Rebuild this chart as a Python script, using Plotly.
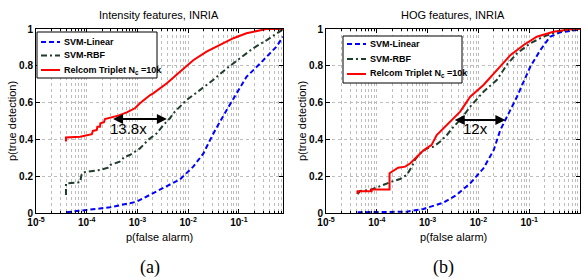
import math
import plotly.graph_objects as go

# ---------------- data ----------------
# (a) Intensity features, INRIA
a_lin_fa = [4.0e-5, 1.0e-4, 2.88e-4, 9.55e-4, 2.4e-3, 6.9e-3, 1.26e-2, 2.0e-2, 2.7e-2,
            3.4e-2, 5.75e-2, 8.9e-2, 0.141, 0.257, 0.41, 0.55, 0.74]
a_lin_td = [0.004, 0.016, 0.031, 0.061, 0.116, 0.183, 0.252, 0.324, 0.397,
            0.45, 0.56, 0.65, 0.74, 0.81, 0.868, 0.904, 0.958]

a_rbf_fa = [3.9e-5, 3.9e-5, 7.4e-5, 7.9e-5, 8.5e-5, 1.82e-4, 2.63e-4, 2.88e-4, 4.47e-4,
            5.62e-4, 7.08e-4, 1.12e-3, 1.62e-3, 2.4e-3, 3.24e-3, 4.37e-3, 5.1e-3, 9.3e-3,
            1.7e-2, 3.1e-2, 5.75e-2, 0.105, 0.19, 0.355, 0.645, 0.74]
a_rbf_td = [0.098, 0.161, 0.167, 0.207, 0.221, 0.234, 0.246, 0.261, 0.279,
            0.306, 0.315, 0.351, 0.397, 0.433, 0.478, 0.515, 0.542, 0.614,
            0.668, 0.723, 0.786, 0.84, 0.895, 0.94, 0.985, 0.998]

a_rel_fa = [3.9e-5, 3.9e-5, 7.4e-5, 1.0e-4, 1.26e-4, 1.32e-4, 1.58e-4, 1.62e-4, 1.82e-4,
            1.86e-4, 2.19e-4, 2.29e-4, 2.88e-4, 4.17e-4, 6.17e-4, 8.9e-4, 1.12e-3, 1.41e-3,
            1.78e-3, 2.04e-3, 3.8e-3, 6.9e-3, 1.26e-2, 2.3e-2, 4.3e-2, 7.8e-2, 0.141,
            0.257, 0.347, 0.74]
a_rel_td = [0.388, 0.41, 0.415, 0.424, 0.428, 0.446, 0.451, 0.469, 0.469,
            0.487, 0.493, 0.511, 0.518, 0.529, 0.547, 0.569, 0.596, 0.62,
            0.641, 0.65, 0.705, 0.768, 0.83, 0.877, 0.913, 0.95, 0.977,
            0.995, 1.0, 1.0]

# (b) HOG features, INRIA
b_lin_fa = [4.2e-5, 3.89e-4, 8.3e-4, 2.04e-3, 3.7e-3, 6.9e-3, 1.26e-2, 2.0e-2, 2.7e-2,
            3.4e-2, 5.75e-2, 0.105, 0.166, 0.257, 0.41, 0.645, 1.0]
b_lin_td = [0.004, 0.007, 0.022, 0.056, 0.098, 0.161, 0.243, 0.342, 0.451,
            0.505, 0.632, 0.795, 0.886, 0.958, 0.982, 0.99, 0.998]

b_rbf_fa = [4.2e-5, 4.7e-5, 7.4e-5, 1.26e-4, 1.95e-4, 2.88e-4, 3.89e-4, 4.9e-4, 5.62e-4,
            7.08e-4, 9.55e-4, 1.29e-3, 1.78e-3, 2.4e-3, 3.24e-3, 4.37e-3, 6.9e-3, 1.26e-2,
            2.3e-2, 3.6e-2, 5.75e-2, 0.105, 0.19, 0.355, 0.74, 1.0]
b_rbf_td = [0.102, 0.12, 0.125, 0.152, 0.17, 0.185, 0.207, 0.252, 0.288,
            0.324, 0.351, 0.36, 0.388, 0.424, 0.469, 0.505, 0.578, 0.659,
            0.723, 0.804, 0.868, 0.922, 0.958, 0.985, 1.0, 1.0]

b_rel_fa = [4.2e-5, 4.2e-5, 7.9e-5, 7.9e-5, 1.78e-4, 1.78e-4, 2.63e-4, 3.63e-4, 4.57e-4,
            6.17e-4, 7.76e-4, 9.55e-4, 1.2e-3, 1.51e-3, 1.91e-3, 2.4e-3, 3.0e-3, 4.37e-3,
            5.1e-3, 6.9e-3, 1.26e-2, 2.3e-2, 4.3e-2, 7.8e-2, 0.141, 0.30, 0.645, 1.0]
b_rel_td = [0.103, 0.118, 0.118, 0.128, 0.128, 0.216, 0.246, 0.252, 0.27,
            0.306, 0.333, 0.351, 0.37, 0.424, 0.451, 0.478, 0.505, 0.551,
            0.578, 0.632, 0.696, 0.777, 0.859, 0.913, 0.958, 0.985, 0.998, 1.0]

series_names = ["SVM-Linear", "SVM-RBF", "Relcom Triplet N<sub>c</sub> =10k"]

# annotation arrows: (left fa, right fa, td, label, label fa, label td)
a_arrow = (3.09e-4, 3.8e-3, 0.511, "13.8x", 6.6e-4, 0.46)
b_arrow = (3.2e-3, 3.4e-2, 0.505, "12x", 8.9e-3, 0.46)

panel_titles = ["Intensity features, INRIA", "HOG features, INRIA"]
panel_tags = ["(a)", "(b)"]
x_label = "p(false alarm)"
y_label = "p(true detection)"
y_ticks = [0, 0.2, 0.4, 0.6, 0.8, 1]
x_decades = [-5, -4, -3, -2, -1, 0]

# ---------------- styling ----------------
W, H = 585, 280
FONT = "Liberation Sans, Arial, Helvetica, sans-serif"
COLORS = ["#0000ff", "#1f3d2b", "#ff0000"]
DASHES = ["5px,3px", "6px,3px,2px,3px", "solid"]

fig = go.Figure()

def add_panel(idx, series):
    xa = "x" if idx == 0 else "x2"
    ya = "y" if idx == 0 else "y2"
    for k, (fa, td) in enumerate(series):
        fig.add_trace(go.Scatter(x=fa, y=td, mode="lines", name=series_names[k],
                                 line=dict(color=COLORS[k], width=2, dash=DASHES[k]),
                                 xaxis=xa, yaxis=ya, showlegend=False))

add_panel(0, [(a_lin_fa, a_lin_td), (a_rbf_fa, a_rbf_td), (a_rel_fa, a_rel_td)])
add_panel(1, [(b_lin_fa, b_lin_td), (b_rbf_fa, b_rbf_td), (b_rel_fa, b_rel_td)])

# log tick positions: labelled decades, unlabelled minor ticks
major_vals = [10.0 ** d for d in x_decades]
major_text = ["10<sup>%d</sup>" % d for d in x_decades]
minor_vals = [m * 10.0 ** d for d in x_decades if d < 0 for m in range(2, 10)]

# pixel geometry
L1, R1 = 36, 283
L2, R2 = 326, 580
TOP, BOT = 29, 213

def px(v):
    return v / W

def py(v):
    return 1 - v / H

GRID = "#bdbdbd"
common_x = dict(type="log", tickmode="array", tickvals=major_vals, ticktext=major_text,
                showgrid=True, gridcolor=GRID, griddash="dot", gridwidth=1,
                showline=True, linecolor="black", linewidth=1, mirror="ticks",
                ticks="inside", ticklen=4, tickcolor="black", zeroline=False,
                minor=dict(tickmode="array", tickvals=minor_vals, ticks="inside",
                           ticklen=2, tickcolor="black", showgrid=True,
                           gridcolor=GRID, griddash="dot", gridwidth=1),
                tickfont=dict(family=FONT, size=10, color="black", weight="bold"))
common_y = dict(range=[0, 1], tickmode="array", tickvals=y_ticks,
                ticktext=[("%g" % v) for v in y_ticks],
                showgrid=True, gridcolor=GRID, griddash="dot", gridwidth=1,
                showline=True, linecolor="black", linewidth=1, mirror="ticks",
                ticks="inside", ticklen=4, tickcolor="black", zeroline=False,
                tickfont=dict(family=FONT, size=10, color="black", weight="bold"))

fig.update_layout(
    width=W, height=H,
    margin=dict(l=0, r=0, t=0, b=0, autoexpand=False),
    paper_bgcolor="white", plot_bgcolor="white",
    xaxis=dict(common_x, domain=[px(L1), px(R1)], range=[-5, math.log10(0.74)]),
    yaxis=dict(common_y, domain=[py(BOT), py(TOP)], anchor="x"),
    xaxis2=dict(common_x, domain=[px(L2), px(R2)], range=[-5, 0]),
    yaxis2=dict(common_y, domain=[py(BOT), py(TOP)], anchor="x2"),
    showlegend=False,
)

annotations = []
shapes = []
for i, (L, R) in enumerate([(L1, R1), (L2, R2)]):
    cx = px((L + R) / 2)
    annotations.append(dict(text=panel_titles[i], x=cx, y=py(15), xref="paper", yref="paper",
                            xanchor="center", yanchor="middle",
                            showarrow=False, font=dict(family=FONT, size=11, color="black")))
    annotations.append(dict(text=x_label, x=cx, y=py(237), xref="paper", yref="paper",
                            xanchor="center", yanchor="middle",
                            showarrow=False, font=dict(family=FONT, size=11, color="black")))
    annotations.append(dict(text=y_label, x=px(L - 24), y=py((TOP + BOT) / 2), xref="paper",
                            yref="paper", showarrow=False, textangle=-90,
                            xanchor="center", yanchor="middle",
                            font=dict(family=FONT, size=11, color="black")))
    annotations.append(dict(text=panel_tags[i], x=px((L + R) / 2 - 10), y=py(267), xref="paper",
                            yref="paper", showarrow=False, xanchor="center", yanchor="middle",
                            font=dict(family="Liberation Serif, Times New Roman, serif",
                                      size=18, color="black")))

# legend boxes (drawn as a framed key)
legend_geo = [
    dict(box=(37, 32, 157, 78), rows=[42, 55.5, 70], line=(41, 60), text=62),
    dict(box=(343, 36, 462, 83), rows=[44, 59, 74], line=(347, 366), text=368),
]
for g in legend_geo:
    x0, y0, x1, y1 = g["box"]
    shapes.append(dict(type="rect", xref="paper", yref="paper",
                       x0=px(x0), x1=px(x1), y0=py(y0), y1=py(y1),
                       fillcolor="white", line=dict(color="black", width=1), layer="above"))
    for k, ry in enumerate(g["rows"]):
        shapes.append(dict(type="line", xref="paper", yref="paper",
                           x0=px(g["line"][0]), x1=px(g["line"][1]), y0=py(ry), y1=py(ry),
                           line=dict(color=COLORS[k], width=2, dash=DASHES[k]), layer="above"))
        annotations.append(dict(text=series_names[k], x=px(g["text"]), y=py(ry),
                                xref="paper", yref="paper", xanchor="left", yanchor="middle",
                                showarrow=False,
                                font=dict(family=FONT, size=9, color="black", weight="bold")))

for arr, xr, yr in [(a_arrow, "x", "y"), (b_arrow, "x2", "y2")]:
    x0, x1, yv, lab, lx, ly = arr
    annotations.append(dict(x=math.log10(x1), y=yv, ax=math.log10(x0), ay=yv,
                            xref=xr, yref=yr, axref=xr, ayref=yr, text="",
                            showarrow=True, arrowhead=2, arrowsize=1, arrowwidth=2,
                            arrowside="end+start", arrowcolor="black"))
    annotations.append(dict(x=math.log10(lx), y=ly, xref=xr, yref=yr, text=lab,
                            xanchor="center", yanchor="middle",
                            showarrow=False, font=dict(family=FONT, size=15, color="black")))

fig.update_layout(annotations=annotations, shapes=shapes)

fig.write_html("out.html", config={"displayModeBar": False},
               post_script="document.body.style.margin='0px';")
